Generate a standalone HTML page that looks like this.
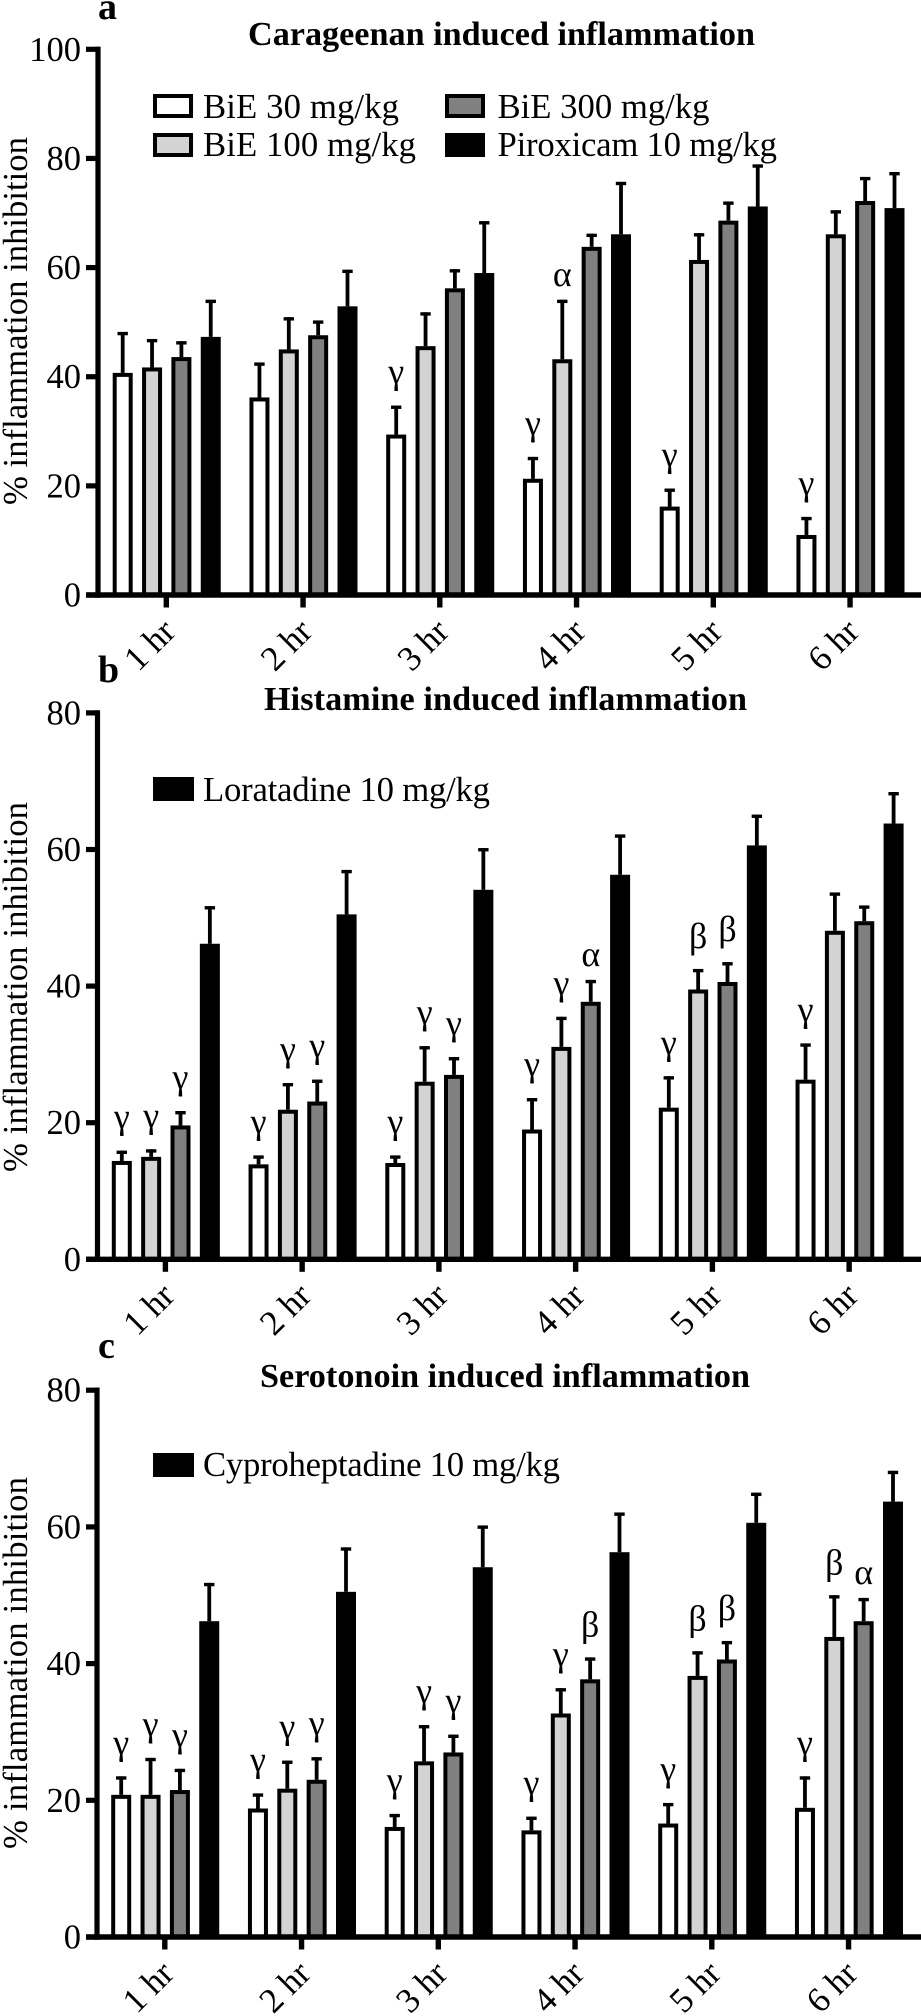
<!DOCTYPE html>
<html lang="en">
<head>
<meta charset="utf-8">
<title>Inflammation inhibition bar charts</title>
<style>
html,body{margin:0;padding:0;background:#fff;width:921px;height:2016px;overflow:hidden}
svg{display:block}
text{font-family:"Liberation Serif","Times New Roman",serif;fill:#000}
.t{font-size:34.7px}
.tick{font-size:34.5px}
.xl{font-size:35px}
.sig{font-size:36px}
.b{font-weight:bold;font-size:34.2px}
.p{font-weight:bold;font-size:38px}
</style>
</head>
<body>
<svg id="figure" xmlns="http://www.w3.org/2000/svg" width="921" height="2016" viewBox="0 0 921 2016">
  <rect width="921" height="2016" fill="#fff"/>

  <text class="p" x="98" y="19">a</text>
  <text class="b" x="248" y="45" textLength="507">Carageenan induced inflammation</text>
  <text class="t" transform="translate(27,505) rotate(-90)" textLength="368">% inflammation inhibition</text>
  <rect x="155" y="96" width="36" height="20" fill="#fff" stroke="#000" stroke-width="4"/>
  <text class="t" x="203" y="118" textLength="196">BiE 30 mg/kg</text>
  <rect x="155" y="135" width="36" height="20" fill="#d3d3d3" stroke="#000" stroke-width="4"/>
  <text class="t" x="203" y="156" textLength="213">BiE 100 mg/kg</text>
  <rect x="447" y="96" width="36" height="20" fill="#808080" stroke="#000" stroke-width="4"/>
  <text class="t" x="497.5" y="118" textLength="212">BiE 300 mg/kg</text>
  <rect x="445" y="133" width="40" height="24" fill="#000"/>
  <text class="t" x="497.5" y="156" textLength="279.5">Piroxicam 10 mg/kg</text>

  <text class="p" x="98" y="682">b</text>
  <text class="b" x="264" y="710" textLength="483">Histamine induced inflammation</text>
  <text class="t" transform="translate(27,1172) rotate(-90)" textLength="370">% inflammation inhibition</text>
  <rect x="153" y="777" width="41" height="24" fill="#000"/>
  <text class="t" x="203" y="801" textLength="287">Loratadine 10 mg/kg</text>

  <text class="p" x="98" y="1358">c</text>
  <text class="b" x="260" y="1387" textLength="490">Serotonoin induced inflammation</text>
  <text class="t" transform="translate(27,1849) rotate(-90)" textLength="372">% inflammation inhibition</text>
  <rect x="153" y="1453" width="41" height="24" fill="#000"/>
  <text class="t" x="203" y="1476" textLength="357">Cyproheptadine 10 mg/kg</text>
</svg>
<script>
const hours = ['1 hr','2 hr','3 hr','4 hr','5 hr','6 hr'];
const seriesNames = ['bie-30','bie-100','bie-300','standard'];
const ticksA = [0,20,40,60,80,100];
const ticksB = [0,20,40,60,80];
const ticksC = [0,20,40,60,80];

const carBie30 = [40.7,36.2,29.4,21.3,16.2,11];
const carBie100 = [41.7,45,45.6,43.2,61.4,66.1];
const carBie300 = [43.6,47.6,56.2,63.8,68.6,72.2];
const carPiroxicam = [47.3,52.9,59,66.1,71.2,70.9];
const carBie30Err = [7.5,6.4,5.3,4,3.3,3.3];
const carBie100Err = [5.2,5.9,6.2,10.9,4.9,4.4];
const carBie300Err = [2.9,2.7,3.5,2.4,3.5,4.4];
const carPiroxicamErr = [6.8,6.7,9.5,9.6,7.7,6.6];
const carBie30Sig = ['','','γ','γ','γ','γ'];
const carBie100Sig = ['','','','α','',''];
const carBie300Sig = ['','','','','',''];
const carPiroxicamSig = ['','','','','',''];

const hisBie30 = [14.4,13.9,14.1,19,22.2,26.3];
const hisBie100 = [15,21.9,26,31.1,39.5,48.1];
const hisBie300 = [19.6,23.1,27,37.7,40.6,49.5];
const hisLoratadine = [46.2,50.5,54.1,56.3,60.6,63.8];
const hisBie30Err = [1.5,1.3,1.1,4.6,4.6,5.3];
const hisBie100Err = [1.1,3.9,5.2,4.4,3,5.6];
const hisBie300Err = [2.1,3.2,2.6,3.2,2.9,2.3];
const hisLoratadineErr = [5.5,6.5,6.1,5.9,4.5,4.6];
const hisBie30Sig = ['γ','γ','γ','γ','γ','γ'];
const hisBie100Sig = ['γ','γ','γ','γ','β',''];
const hisBie300Sig = ['γ','γ','γ','α','β',''];
const hisLoratadineSig = ['','','','','',''];

const serBie30 = [20.8,18.8,16.1,15.6,16.6,18.9];
const serBie100 = [20.8,21.7,25.7,32.7,38.2,43.9];
const serBie300 = [21.5,23,27,37.7,40.6,46.2];
const serCyproheptadine = [46.2,50.5,54.1,56.3,60.6,63.7];
const serBie30Err = [2.7,2.2,1.9,2,3,4.6];
const serBie100Err = [5.4,4.1,5.3,3.7,3.6,6.1];
const serBie300Err = [3.1,3.3,2.6,3.2,2.7,3.4];
const serCyproheptadineErr = [5.6,6.5,6.1,5.8,4.4,4.5];
const serBie30Sig = ['γ','γ','γ','γ','γ','γ'];
const serBie100Sig = ['γ','γ','γ','γ','β','β'];
const serBie300Sig = ['γ','γ','γ','β','β','α'];
const serCyproheptadineSig = ['','','','','',''];

const NS = 'http://www.w3.org/2000/svg';
const svg = document.getElementById('figure');
const fills = ['#fff','#d3d3d3','#808080','#000'];
const sigGap = {'γ':22,'α':14,'β':21};

function shape(parent, tag, attrs){
  const el = document.createElementNS(NS, tag);
  Object.keys(attrs).forEach(function(k){ el.setAttribute(k, attrs[k]); });
  parent.appendChild(el);
  return el;
}

function drawPanel(p){
  const yScale = function(v){ return p.y0 - v * (p.y0 - p.yTop) / p.max; };
  const groupX = function(g){ return p.x0 + g * 136.75; };
  const barX = function(g, s){ return groupX(g) + s * 29.35; };

  const group = shape(svg, 'g', {});
  
  

  p.values.forEach(function(vals, s){
    vals.forEach(function(v, g){
      const cx = barX(g, s);
      const top = yScale(v);
      const errTop = yScale(v + p.errors[s][g]);

      const stem = shape(group, 'line', {x1:cx, x2:cx, y1:top, y2:errTop, stroke:'#000', 'stroke-width':3.8});
      
      

      const cap = shape(group, 'line', {x1:cx - 5.2, x2:cx + 5.2, y1:errTop + 1.6, y2:errTop + 1.6, stroke:'#000', 'stroke-width':3.4});
      
      

      const bar = shape(group, 'rect', {x:cx - 8, y:top + 2, width:16, height:Math.max(0, p.y0 - top - 2), fill:fills[s], stroke:'#000', 'stroke-width':4});
      
      

      const sym = p.sig[s][g];
      if (sym) {
        const mark = shape(group, 'text', {x:cx, y:errTop - sigGap[sym], 'text-anchor':'middle', 'class':'sig'});
        mark.textContent = sym;
        
        
      }
    });
  });

  const yAxis = shape(group, 'line', {x1:p.axisX, x2:p.axisX, y1:yScale(p.max) - 2.7, y2:p.y0 + 2.7, stroke:'#000', 'stroke-width':5.2});
  
  

  const xAxis = shape(group, 'line', {x1:86, x2:921, y1:p.y0, y2:p.y0, stroke:'#000', 'stroke-width':5.4});
  
  

  p.ticks.forEach(function(t){
    const yPos = yScale(t);
    const tick = shape(group, 'line', {x1:86, x2:p.axisX, y1:yPos, y2:yPos, stroke:'#000', 'stroke-width':5.2});
    
    

    const label = shape(group, 'text', {x:81, y:yPos + 11.5, 'text-anchor':'end', 'class':'tick'});
    label.textContent = t;
    
    
  });

  hours.forEach(function(h, g){
    const tx = groupX(g) + 43.6;
    const tick = shape(group, 'line', {x1:tx, x2:tx, y1:p.y0, y2:p.y0 + 12.5, stroke:'#000', 'stroke-width':5.4});
    
    

    const lx = tx + 11;
    const ly = p.y0 + p.labelDy;
    const label = shape(group, 'text', {transform:'translate(' + lx + ',' + ly + ') rotate(-45)', 'text-anchor':'end', 'class':'xl'});
    label.textContent = h;
    
    
  });
}

drawPanel({id:'a', x0:122.7, axisX:98, y0:595, yTop:49.3, max:100, ticks:ticksA, labelDy:38.5,
  values:[carBie30,carBie100,carBie300,carPiroxicam],
  errors:[carBie30Err,carBie100Err,carBie300Err,carPiroxicamErr],
  sig:[carBie30Sig,carBie100Sig,carBie300Sig,carPiroxicamSig]});
drawPanel({id:'b', x0:121.8, axisX:97.5, y0:1259.3, yTop:712.9, max:80, ticks:ticksB, labelDy:38.5,
  values:[hisBie30,hisBie100,hisBie300,hisLoratadine],
  errors:[hisBie30Err,hisBie100Err,hisBie300Err,hisLoratadineErr],
  sig:[hisBie30Sig,hisBie100Sig,hisBie300Sig,hisLoratadineSig]});
drawPanel({id:'c', x0:121.2, axisX:97, y0:1937, yTop:1390.2, max:80, ticks:ticksC, labelDy:38.5,
  values:[serBie30,serBie100,serBie300,serCyproheptadine],
  errors:[serBie30Err,serBie100Err,serBie300Err,serCyproheptadineErr],
  sig:[serBie30Sig,serBie100Sig,serBie300Sig,serCyproheptadineSig]});
</script>
</body>
</html>
